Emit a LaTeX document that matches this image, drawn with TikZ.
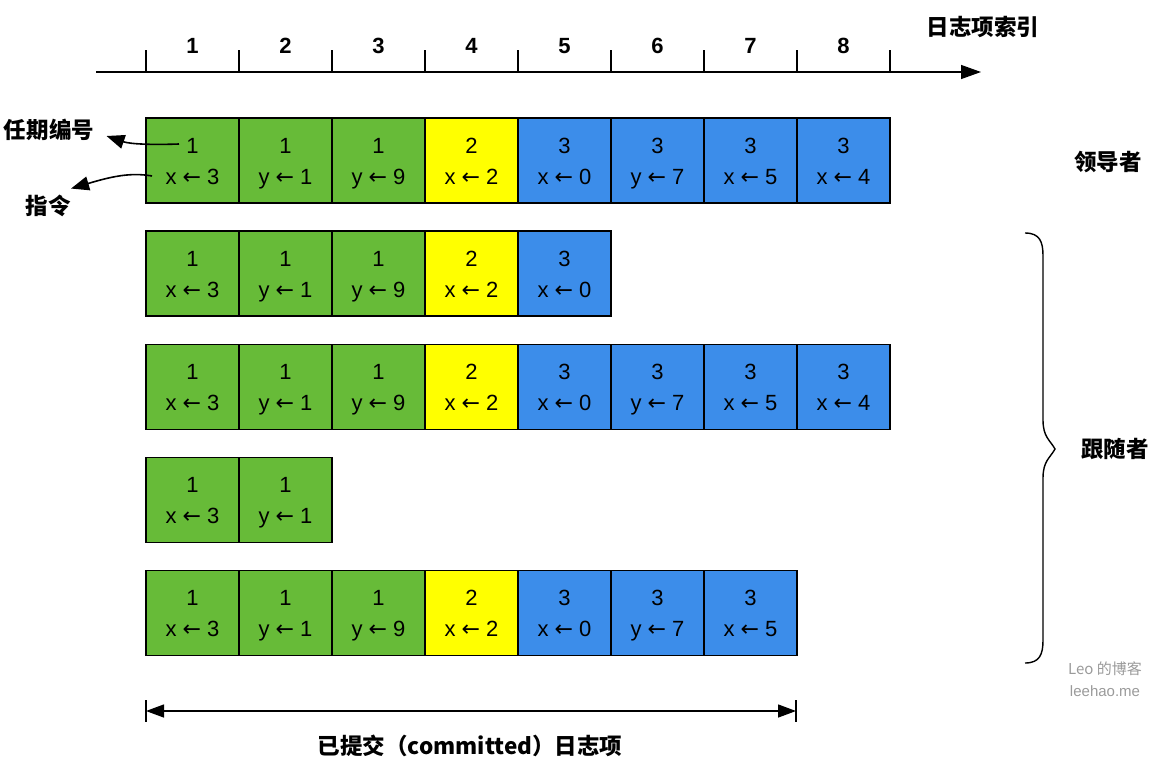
\documentclass[tikz,border=0pt]{standalone}
\usepackage{fontspec}
\setmainfont{Liberation Sans}
\newfontfamily\cjk{Noto Sans CJK SC}
\newfontfamily\arr{DejaVu Sans}
\usetikzlibrary{arrows.meta,calc}
\definecolor{cgreen}{HTML}{67BB38}
\definecolor{cyellow}{HTML}{FFFF00}
\definecolor{cblue}{HTML}{3C8DEA}
\definecolor{wm}{HTML}{9A9A9A}
\newcommand{\la}{{\arr ←}}
\newcommand{\st}{\rule[-7.3pt]{0pt}{31pt}}
\begin{document}
\begin{tikzpicture}[x=1pt,y=-1pt,
  cell/.style={draw=black,line width=1.4pt,minimum width=93pt,minimum height=85pt,inner sep=0pt,align=center,font=\fontsize{22}{31}\selectfont},
  g/.style={cell,fill=cgreen},
  yl/.style={cell,fill=cyellow},
  b/.style={cell,fill=cblue},
  idx/.style={font=\fontsize{22}{24}\selectfont\bfseries},
  lab/.style={font=\cjk\bfseries\fontsize{22.5}{26}\selectfont},
  tip/.style={-{Triangle[length=20pt,width=14pt]}},
  ln/.style={line width=1.4pt}]
\useasboundingbox (0,0) rectangle (1158,774);
% axis
\coordinate (ax0) at (96,72);
\coordinate (ax1) at (981,72);
\draw[ln,tip] (ax0) -- (ax1);
\foreach \i in {0,...,8} {
  \draw[ln] (146+93*\i,50) -- (146+93*\i,72);
}
\foreach \i in {1,...,8} {
  \node[idx] (n\i) at (192.5+93*\i-93,46) {\i};
}
\node[lab] (axl) at (983,27) {日志项索引};
% rows
\newcommand{\putcell}[5]{\node[#4] (#1) at (192.5+93*#2-93,#3) {#5};}
\foreach \r/\y/\n in {1/160.5/8,2/273.5/5,3/387/8,4/500/2,5/613/7} {
  \ifnum\n>0 \putcell{r\r c1}{1}{\y}{g}{\st1\\\st x \la{} 3}\fi
  \ifnum\n>1 \putcell{r\r c2}{2}{\y}{g}{\st1\\\st y \la{} 1}\fi
  \ifnum\n>2 \putcell{r\r c3}{3}{\y}{g}{\st1\\\st y \la{} 9}\fi
  \ifnum\n>3 \putcell{r\r c4}{4}{\y}{yl}{\st2\\\st x \la{} 2}\fi
  \ifnum\n>4 \putcell{r\r c5}{5}{\y}{b}{\st3\\\st x \la{} 0}\fi
  \ifnum\n>5 \putcell{r\r c6}{6}{\y}{b}{\st3\\\st y \la{} 7}\fi
  \ifnum\n>6 \putcell{r\r c7}{7}{\y}{b}{\st3\\\st x \la{} 5}\fi
  \ifnum\n>7 \putcell{r\r c8}{8}{\y}{b}{\st3\\\st x \la{} 4}\fi
}
% left labels
\node[lab] (term) at (49,130) {任期编号};
\node[lab] (cmd) at (48,206) {指令};
\coordinate (t0) at (179,144);
\coordinate (c0) at (152,176);
\draw[line width=1.6pt,-{Triangle[length=18pt,width=14pt]}] (t0) .. controls (150,145) and (130,144) .. ($(term.east)+(9,6)$);
\draw[line width=1.6pt,-{Triangle[length=18pt,width=14pt]}] (c0) .. controls (130,172) and (110,177) .. ($(cmd.north east)+(-3,-3)$);
% leader label
\node[lab] (lead) at (1108,162) {领导者};
% brace
\coordinate (bt) at (1025,233);
\coordinate (bb) at (1025,663);
\coordinate (bm) at (1055,449);
\draw[line width=1.4pt] (bt) .. controls (1040,233) and (1043,242) .. (1043,256)
  -- (1043,420) .. controls (1043,437) and (1050,440) .. (bm)
  .. controls (1050,458) and (1043,461) .. (1043,478)
  -- (1043,640) .. controls (1043,654) and (1040,663) .. (bb);
\node[lab] (fol) at (1115,449) {跟随者};
% watermark
\node[font=\cjk\fontsize{15}{18}\selectfont,text=wm] (wm1) at (1105,669) {Leo 的博客};
\node[font=\fontsize{15}{18}\selectfont,text=wm] (wm2) at (1105,691) {leehao.me};
% committed
\coordinate (cm0) at (146,711);
\coordinate (cm1) at (796,711);
\draw[ln] (146,700) -- (146,722);
\draw[ln] (796,700) -- (796,722);
\draw[ln,{Triangle[length=18pt,width=13pt]}-{Triangle[length=18pt,width=13pt]}] (cm0) -- (cm1);
\node[lab] (cml) at (470,746) {已提交（committed）日志项};
\end{tikzpicture}
\end{document}
